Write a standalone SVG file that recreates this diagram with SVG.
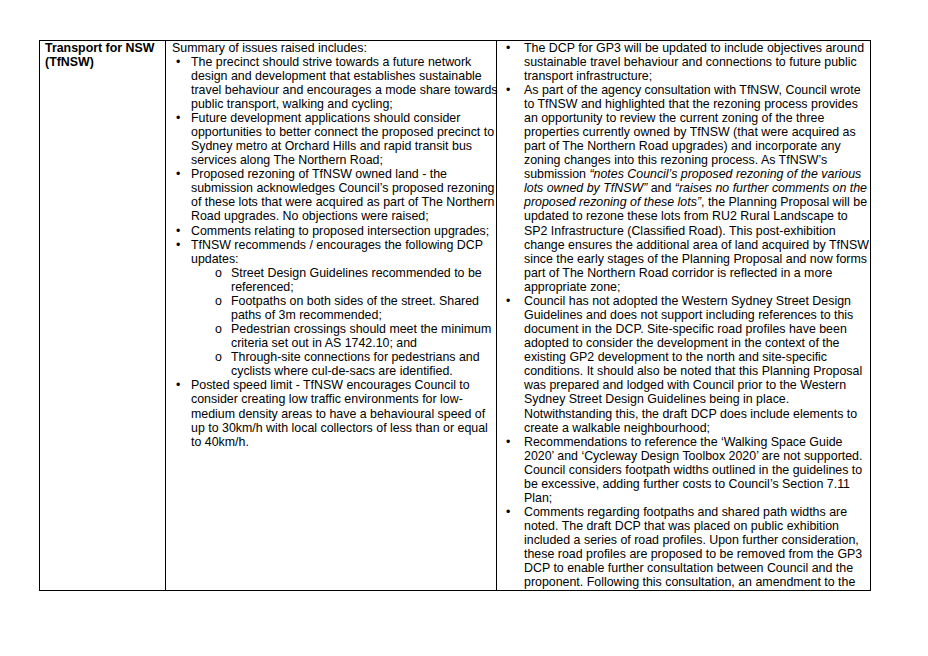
<svg xmlns="http://www.w3.org/2000/svg" width="928" height="656" viewBox="0 0 928 656">
<style>
text{font-family:"Liberation Sans",Arial,sans-serif;font-size:12.4px;fill:#000}
.b{font-weight:bold}
.i{font-style:italic}
.ln{stroke:#000;stroke-width:1;fill:none}
</style>
<rect width="928" height="656" fill="#fff"/>
<g id="table">
<rect class="ln" x="39.5" y="40.5" width="831" height="550"/>
<line class="ln" x1="165.5" y1="40" x2="165.5" y2="591"/>
<line class="ln" x1="496.5" y1="40" x2="496.5" y2="591"/>
</g>
<g id="col1">
<text class="b" x="45" y="51.5">Transport for NSW</text>
<text class="b" x="45" y="65.6">(TfNSW)</text>
</g>
<g id="col2">
<text x="172" y="51.5">Summary of issues raised includes:</text>
<g font-size="12.4">
<text x="176" y="65.6">•</text><text x="191" y="65.6">The precinct should strive towards a future network</text>
<text x="191" y="79.7">design and development that establishes sustainable</text>
<text x="191" y="93.7">travel behaviour and encourages a mode share towards</text>
<text x="191" y="107.8">public transport, walking and cycling;</text>
<text x="176" y="121.9">•</text><text x="191" y="121.9">Future development applications should consider</text>
<text x="191" y="136">opportunities to better connect the proposed precinct to</text>
<text x="191" y="150">Sydney metro at Orchard Hills and rapid transit bus</text>
<text x="191" y="164.1">services along The Northern Road;</text>
<text x="176" y="178.2">•</text><text x="191" y="178.2">Proposed rezoning of TfNSW owned land - the</text>
<text x="191" y="192.3">submission acknowledges Council’s proposed rezoning</text>
<text x="191" y="206.3">of these lots that were acquired as part of The Northern</text>
<text x="191" y="220.4">Road upgrades. No objections were raised;</text>
<text x="176" y="234.5">•</text><text x="191" y="234.5">Comments relating to proposed intersection upgrades;</text>
<text x="176" y="248.6">•</text><text x="191" y="248.6">TfNSW recommends / encourages the following DCP</text>
<text x="191" y="262.6">updates:</text>
<text x="215" y="276.7" font-size="9">o</text><text x="231" y="276.7">Street Design Guidelines recommended to be</text>
<text x="231" y="290.8">referenced;</text>
<text x="215" y="304.9" font-size="9">o</text><text x="231" y="304.9">Footpaths on both sides of the street. Shared</text>
<text x="231" y="318.9">paths of 3m recommended;</text>
<text x="215" y="333" font-size="9">o</text><text x="231" y="333">Pedestrian crossings should meet the minimum</text>
<text x="231" y="347.1">criteria set out in AS 1742.10; and</text>
<text x="215" y="361.2" font-size="9">o</text><text x="231" y="361.2">Through-site connections for pedestrians and</text>
<text x="231" y="375.2">cyclists where cul-de-sacs are identified.</text>
<text x="176" y="389.3">•</text><text x="191" y="389.3">Posted speed limit - TfNSW encourages Council to</text>
<text x="191" y="403.4">consider creating low traffic environments for low-</text>
<text x="191" y="417.5">medium density areas to have a behavioural speed of</text>
<text x="191" y="431.5">up to 30km/h with local collectors of less than or equal</text>
<text x="191" y="445.6">to 40km/h.</text>
</g>
</g>
<g id="col3">
<text x="506" y="51.5">•</text><text x="524" y="51.5">The DCP for GP3 will be updated to include objectives around</text>
<text x="524" y="65.6">sustainable travel behaviour and connections to future public</text>
<text x="524" y="79.7">transport infrastructure;</text>
<text x="506" y="93.7">•</text><text x="524" y="93.7">As part of the agency consultation with TfNSW, Council wrote</text>
<text x="524" y="107.8">to TfNSW and highlighted that the rezoning process provides</text>
<text x="524" y="121.9">an opportunity to review the current zoning of the three</text>
<text x="524" y="136">properties currently owned by TfNSW (that were acquired as</text>
<text x="524" y="150">part of The Northern Road upgrades) and incorporate any</text>
<text x="524" y="164.1">zoning changes into this rezoning process. As TfNSW’s</text>
<text x="524" y="178.2">submission <tspan class="i">“notes Council’s proposed rezoning of the various</tspan></text>
<text x="524" y="192.3"><tspan class="i">lots owned by TfNSW”</tspan> and <tspan class="i">“raises no further comments on the</tspan></text>
<text x="524" y="206.3"><tspan class="i">proposed rezoning of these lots”</tspan>, the Planning Proposal will be</text>
<text x="524" y="220.4">updated to rezone these lots from RU2 Rural Landscape to</text>
<text x="524" y="234.5">SP2 Infrastructure (Classified Road). This post-exhibition</text>
<text x="524" y="248.6">change ensures the additional area of land acquired by TfNSW</text>
<text x="524" y="262.6">since the early stages of the Planning Proposal and now forms</text>
<text x="524" y="276.7">part of The Northern Road corridor is reflected in a more</text>
<text x="524" y="290.8">appropriate zone;</text>
<text x="506" y="304.9">•</text><text x="524" y="304.9">Council has not adopted the Western Sydney Street Design</text>
<text x="524" y="318.9">Guidelines and does not support including references to this</text>
<text x="524" y="333">document in the DCP. Site-specific road profiles have been</text>
<text x="524" y="347.1">adopted to consider the development in the context of the</text>
<text x="524" y="361.2">existing GP2 development to the north and site-specific</text>
<text x="524" y="375.2">conditions. It should also be noted that this Planning Proposal</text>
<text x="524" y="389.3">was prepared and lodged with Council prior to the Western</text>
<text x="524" y="403.4">Sydney Street Design Guidelines being in place.</text>
<text x="524" y="417.5">Notwithstanding this, the draft DCP does include elements to</text>
<text x="524" y="431.5">create a walkable neighbourhood;</text>
<text x="506" y="445.6">•</text><text x="524" y="445.6">Recommendations to reference the ‘Walking Space Guide</text>
<text x="524" y="459.7">2020’ and ‘Cycleway Design Toolbox 2020’ are not supported.</text>
<text x="524" y="473.8">Council considers footpath widths outlined in the guidelines to</text>
<text x="524" y="487.8">be excessive, adding further costs to Council’s Section 7.11</text>
<text x="524" y="501.9">Plan;</text>
<text x="506" y="516">•</text><text x="524" y="516">Comments regarding footpaths and shared path widths are</text>
<text x="524" y="530.1">noted. The draft DCP that was placed on public exhibition</text>
<text x="524" y="544.1">included a series of road profiles. Upon further consideration,</text>
<text x="524" y="558.2">these road profiles are proposed to be removed from the GP3</text>
<text x="524" y="572.3">DCP to enable further consultation between Council and the</text>
<text x="524" y="586.4">proponent. Following this consultation, an amendment to the</text>
</g>
</svg>
